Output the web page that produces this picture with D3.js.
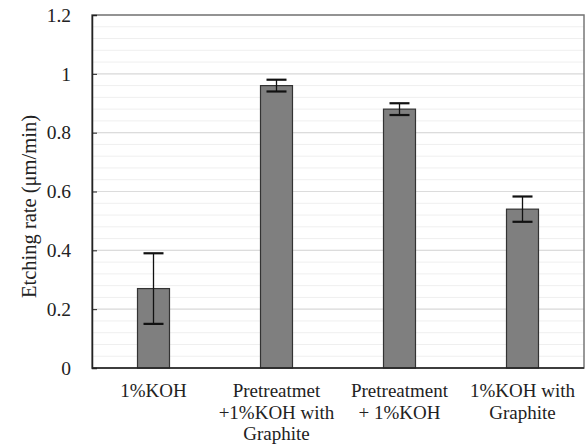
<!DOCTYPE html>
<html>
<head>
<meta charset="utf-8">
<script src="https://cdn.jsdelivr.net/npm/d3@7"></script>
<style>
  body { margin: 0; background: #fff; }
</style>
</head>
<body>
<svg id="svg" width="585" height="447"></svg>
<script>
var categories = [
  ["1%KOH"],
  ["Pretreatmet", "+1%KOH with", "Graphite"],
  ["Pretreatment", "+ 1%KOH"],
  ["1%KOH with", "Graphite"]
];
var rates = [0.27, 0.96, 0.88, 0.54];
var errors = [0.12, 0.02, 0.02, 0.043];
var yTicks = [0, 0.2, 0.4, 0.6, 0.8, 1, 1.2];
var yMinor = d3.range(0, 1.2001, 0.04);

var margin = {top: 15, right: 1, bottom: 79, left: 92};
var width = 585 - margin.left - margin.right;
var height = 447 - margin.top - margin.bottom;

var svg = d3.select("#svg");
var g = svg.append("g").attr("transform", "translate(" + margin.left + "," + margin.top + ")");

var x = d3.scaleBand().domain(d3.range(categories.length)).range([0, width]);
var y = d3.scaleLinear().domain([0, 1.2]).range([height, 0]);

// minor and major gridlines
g.selectAll(".minor").data(yMinor).enter().append("line")
  .attr("x1", 0).attr("x2", width)
  .attr("y1", d => y(d)).attr("y2", d => y(d))
  .attr("stroke", "#efefef").attr("stroke-width", 1);
g.selectAll(".major").data(yTicks).enter().append("line")
  .attr("x1", 0).attr("x2", width)
  .attr("y1", d => y(d)).attr("y2", d => y(d))
  .attr("stroke", "#dcdcdc").attr("stroke-width", 1.2);

// plot frame (top / right)
g.append("rect")
  .attr("x", 0).attr("y", 0).attr("width", width).attr("height", height)
  .attr("fill", "none").attr("stroke", "#777").attr("stroke-width", 1.5);

var bw = 32;
g.selectAll(".bar").data(rates).enter().append("rect")
  .attr("x", (d, i) => x(i) + x.bandwidth() / 2 - bw / 2)
  .attr("y", d => y(d))
  .attr("width", bw)
  .attr("height", d => height - y(d))
  .attr("fill", "#7f7f7f")
  .attr("stroke", "#333").attr("stroke-width", 1.2);

// error bars
var eb = g.selectAll(".err").data(rates).enter().append("g")
  .attr("transform", (d, i) => "translate(" + (x(i) + x.bandwidth() / 2) + ",0)");
eb.append("line")
  .attr("x1", 0).attr("x2", 0)
  .attr("y1", (d, i) => y(d + errors[i])).attr("y2", (d, i) => y(d - errors[i]))
  .attr("stroke", "#111").attr("stroke-width", 1.3);
eb.append("line")
  .attr("x1", -10).attr("x2", 10)
  .attr("y1", (d, i) => y(d + errors[i])).attr("y2", (d, i) => y(d + errors[i]))
  .attr("stroke", "#111").attr("stroke-width", 2.2);
eb.append("line")
  .attr("x1", -10).attr("x2", 10)
  .attr("y1", (d, i) => y(d - errors[i])).attr("y2", (d, i) => y(d - errors[i]))
  .attr("stroke", "#111").attr("stroke-width", 2.2);

// y axis, ticks pointing inward
var yAxis = g.append("g").call(d3.axisLeft(y).tickValues(yTicks).tickSize(-5).tickPadding(21).tickFormat(d3.format("~g")));
yAxis.select(".domain").attr("stroke", "#222").attr("stroke-width", 1.5);
yAxis.selectAll(".tick line").attr("stroke", "#222");
yAxis.selectAll("text").attr("font-size", 19.5).attr("fill", "#222");

// x axis line
g.append("line")
  .attr("x1", 0).attr("x2", width).attr("y1", height).attr("y2", height)
  .attr("stroke", "#222").attr("stroke-width", 1.5);

// category labels
var lab = g.selectAll(".cat").data(categories).enter().append("text")
  .attr("text-anchor", "middle")
  .attr("font-size", 19)
  .attr("fill", "#222")
  .attr("transform", (d, i) => "translate(" + (x(i) + x.bandwidth() / 2) + "," + (height + 29) + ")");
lab.selectAll("tspan").data(d => d).enter().append("tspan")
  .attr("x", 0).attr("dy", (d, j) => j === 0 ? 0 : 21.5)
  .text(d => d);

// y title
svg.append("text")
  .attr("transform", "translate(36," + (margin.top + height / 2 + 15) + ") rotate(-90)")
  .attr("text-anchor", "middle")
  .attr("font-size", 20.5)
  .attr("fill", "#222")
  .text("Etching rate (\u03bcm/min)");

yAxis.attr("font-family", "Liberation Serif");
svg.selectAll("text").attr("font-family", "Liberation Serif");
</script>
</body>
</html>
